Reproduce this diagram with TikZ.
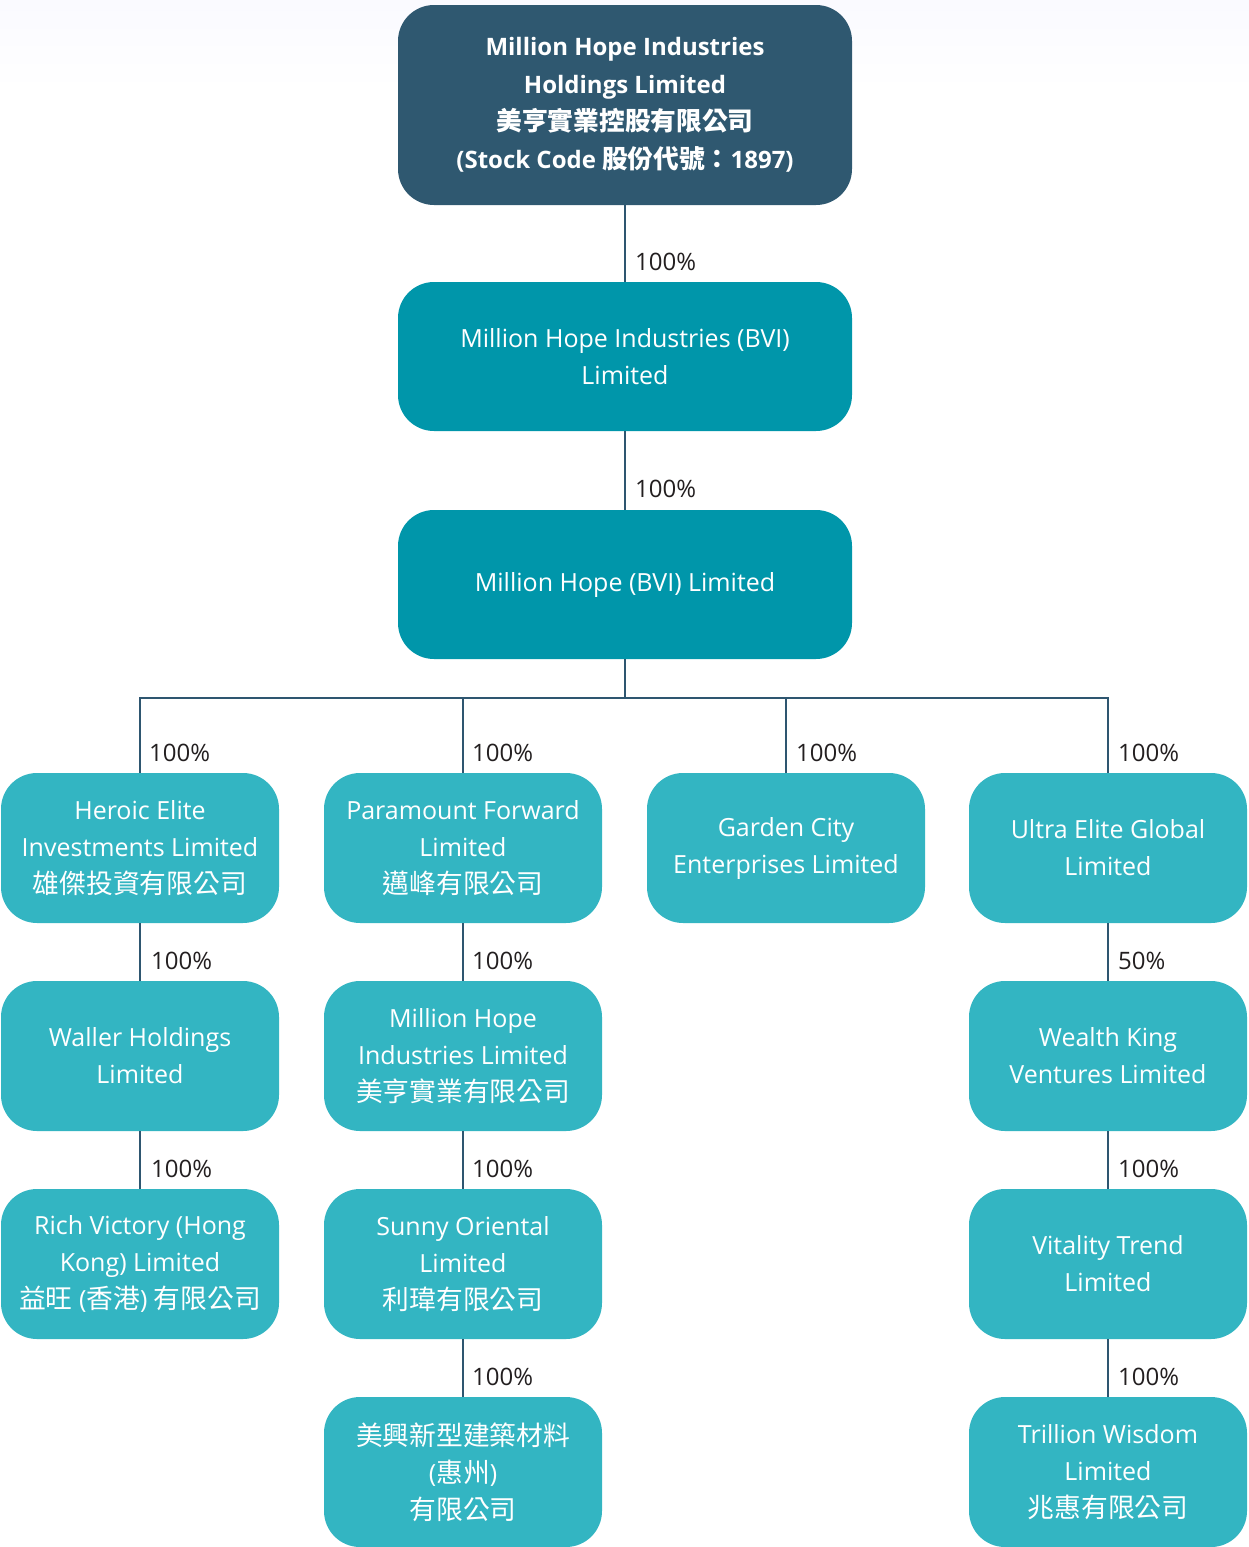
\documentclass[tikz,border=0pt]{standalone}
\usepackage{fontspec}
\setmainfont{Open Sans}
\newfontfamily\cjk[Scale=1.07]{Noto Sans CJK TC}
\usetikzlibrary{calc}
\definecolor{topblue}{HTML}{2F5870}
\definecolor{midteal}{HTML}{0096AA}
\definecolor{lowteal}{HTML}{33B5C2}
\definecolor{linecol}{HTML}{2E5670}
\definecolor{pctcol}{HTML}{231F20}
\tikzset{
  box/.style={rectangle, rounded corners=36pt, minimum width=278pt, minimum height=150pt,
    inner sep=0pt, align=center, text=white, fill=lowteal,
    font=\fontsize{25}{37}\selectfont},
  bigbox/.style={box, minimum width=454pt, minimum height=149pt, fill=midteal},
  topbox/.style={bigbox, minimum height=200pt, fill=topblue, font=\bfseries\fontsize{24}{37.5}\selectfont},
  conn/.style={draw=linecol, line width=2.7pt},
  pct/.style={anchor=west, text=pctcol, inner sep=0pt, font=\fontsize{24}{28}\selectfont},
}
\begin{document}
\begin{tikzpicture}[x=1pt,y=-1pt]
\useasboundingbox (0,0) rectangle (1249,1547);
\shade[top color=black!4!blue!2!white, bottom color=white] (0,0) rectangle (1249,90);
% nodes
\node[topbox] (t) at (625,105) {Million Hope Industries\\Holdings Limited\\{\cjk 美亨實業控股有限公司}\\(Stock Code {\cjk 股份代號：}1897)};
\node[bigbox] (b2) at (625,356.5) {Million Hope Industries (BVI)\\Limited};
\node[bigbox] (b3) at (625,584.5) {Million Hope (BVI) Limited};
\coordinate (bus) at (625,698);
% row 1
\node[box] (a1) at (140,848) {Heroic Elite\\Investments Limited\\{\cjk 雄傑投資有限公司}};
\node[box] (a2) at (463,848) {Paramount Forward\\Limited\\{\cjk 邁峰有限公司}};
\node[box] (a3) at (786,848) {Garden City\\Enterprises Limited};
\node[box] (a4) at (1108,848) {Ultra Elite Global\\Limited};
% row 2
\node[box] (c1) at (140,1056) {Waller Holdings\\Limited};
\node[box] (c2) at (463,1056) {Million Hope\\Industries Limited\\{\cjk 美亨實業有限公司}};
\node[box] (c4) at (1108,1056) {Wealth King\\Ventures Limited};
% row 3
\node[box] (d1) at (140,1264) {Rich Victory (Hong\\Kong) Limited\\{\cjk 益旺} ({\cjk 香港}) {\cjk 有限公司}};
\node[box] (d2) at (463,1264) {Sunny Oriental\\Limited\\{\cjk 利瑋有限公司}};
\node[box] (d4) at (1108,1264) {Vitality Trend\\Limited};
% row 4
\node[box] (e2) at (463,1472) {{\cjk 美興新型建築材料}\\({\cjk 惠州})\\{\cjk 有限公司}};
\node[box] (e4) at (1108,1472) {Trillion Wisdom\\Limited\\{\cjk 兆惠有限公司}};
% connectors
\draw[conn] (t.south) -- (b2.north);
\draw[conn] (b2.south) -- (b3.north);
\draw[conn] (b3.south) -- (bus);
\draw[conn] (a1.north) -- (a1.north |- bus) -- (a4.north |- bus) -- (a4.north);
\draw[conn] (a2.north) -- (a2.north |- bus);
\draw[conn] (a3.north) -- (a3.north |- bus);
\draw[conn] (a1.south) -- (c1.north);
\draw[conn] (c1.south) -- (d1.north);
\draw[conn] (a2.south) -- (c2.north);
\draw[conn] (c2.south) -- (d2.north);
\draw[conn] (d2.south) -- (e2.north);
\draw[conn] (a4.south) -- (c4.north);
\draw[conn] (c4.south) -- (d4.north);
\draw[conn] (d4.south) -- (e4.north);
% percentages
\node[pct] (p1) at ([xshift=10pt,yshift=20pt]b2.north) {100\%};
\node[pct] (p2) at ([xshift=10pt,yshift=21pt]b3.north) {100\%};
\node[pct] (p3) at ([xshift=9pt,yshift=20pt]a1.north) {100\%};
\node[pct] (p4) at ([xshift=9pt,yshift=20pt]a2.north) {100\%};
\node[pct] (p5) at ([xshift=10pt,yshift=20pt]a3.north) {100\%};
\node[pct] (p6) at ([xshift=10pt,yshift=20pt]a4.north) {100\%};
\node[pct] (p7) at ([xshift=11pt,yshift=20pt]c1.north) {100\%};
\node[pct] (p8) at ([xshift=9pt,yshift=20pt]c2.north) {100\%};
\node[pct] (p9) at ([xshift=10pt,yshift=20pt]c4.north) {50\%};
\node[pct] (p10) at ([xshift=11pt,yshift=20pt]d1.north) {100\%};
\node[pct] (p11) at ([xshift=9pt,yshift=20pt]d2.north) {100\%};
\node[pct] (p12) at ([xshift=10pt,yshift=20pt]d4.north) {100\%};
\node[pct] (p13) at ([xshift=9pt,yshift=20pt]e2.north) {100\%};
\node[pct] (p14) at ([xshift=10pt,yshift=20pt]e4.north) {100\%};
\end{tikzpicture}
\end{document}
